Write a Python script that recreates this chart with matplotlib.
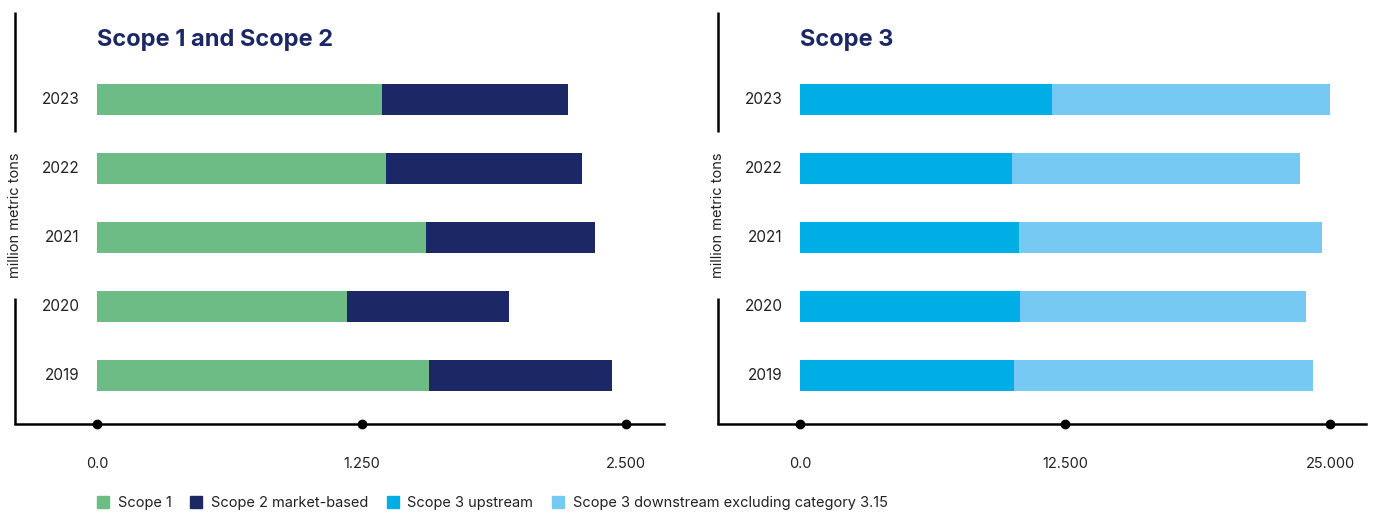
import matplotlib
matplotlib.use("Agg")
import matplotlib.pyplot as plt
from matplotlib.patches import Patch
from matplotlib.transforms import blended_transform_factory

plt.rcParams['font.family'] = ['Inter', 'DejaVu Sans']

# Emissionen in Mio. t CO2e
years = ['2019', '2020', '2021', '2022', '2023']
scope1 = [1569, 1181, 1555, 1366, 1347]
scope2_market = [865, 766, 798, 926, 879]
scope3_upstream = [10094, 10377, 10330, 10000, 11887]
scope3_downstream = [14104, 13491, 14293, 13585, 13100]

left_ticks = [0, 1250, 2500]
left_ticklabels = ['0.0', '1.250', '2.500']
right_ticks = [0, 12500, 25000]
right_ticklabels = ['0.0', '12.500', '25.000']

c_green = '#6dbc86'
c_navy = '#1c2766'
c_blue = '#00aee6'
c_lightblue = '#75c9f3'

W, H = 1375, 513
fig = plt.figure(figsize=(W / 100, H / 100), dpi=100)

ax_top, ax_bot = 12, 424
ax1 = fig.add_axes([15 / W, 1 - ax_bot / H, (664 - 15) / W, (ax_bot - ax_top) / H])
ax2 = fig.add_axes([718 / W, 1 - ax_bot / H, (1366 - 718) / W, (ax_bot - ax_top) / H])

YLIM = (-0.705, 5.265)


def draw_panel(ax, a, b, ca, cb, xlim, ticks, ticklabels, title):
    y = range(len(years))
    ax.barh(y, a, height=0.45, color=ca)
    ax.barh(y, b, left=a, height=0.45, color=cb)
    ax.set_xlim(*xlim)
    ax.set_ylim(*YLIM)
    ax.set_yticks([])
    ax.set_xticks(ticks)
    ax.set_xticklabels(ticklabels, fontsize=10.5, color='#222222')
    ax.tick_params(axis='x', length=0, pad=24)
    for s in ['top', 'right', 'left']:
        ax.spines[s].set_visible(False)
    ax.spines['bottom'].set_linewidth(1.8)
    # Punkte auf der x-Achse
    ax.plot(ticks, [YLIM[0]] * len(ticks), 'o', color='black', ms=6,
            clip_on=False, zorder=5)
    # linke Achse mit Luecke fuer die Beschriftung
    ax.plot([0, 0], [0, 0.306], color='black', lw=1.8, transform=ax.transAxes,
            clip_on=False, solid_capstyle='butt')
    ax.plot([0, 0], [0.709, 1], color='black', lw=1.8, transform=ax.transAxes,
            clip_on=False, solid_capstyle='butt')
    ax.text(0, 0.507, 'million metric tons', rotation=90, ha='center', va='center',
            fontsize=10.5, color='#222222', transform=ax.transAxes)
    for i, yr in enumerate(years):
        ax.annotate(yr, xy=(0, i), xytext=(-12.5, 0), textcoords='offset points',
                    ha='right', va='center', fontsize=11, color='#222222')
    trans = blended_transform_factory(ax.transData, ax.transAxes)
    ax.text(0, 0.932, title, transform=trans, ha='left', va='center',
            fontsize=17, fontweight='bold', color=c_navy)


draw_panel(ax1, scope1, scope2_market, c_green, c_navy, (-388, 2680),
           left_ticks, left_ticklabels, 'Scope 1 and Scope 2')
draw_panel(ax2, scope3_upstream, scope3_downstream, c_blue, c_lightblue, (-3868, 26698),
           right_ticks, right_ticklabels, 'Scope 3')

handles = [Patch(color=c_green, label='Scope 1'),
           Patch(color=c_navy, label='Scope 2 market-based'),
           Patch(color=c_blue, label='Scope 3 upstream'),
           Patch(color=c_lightblue, label='Scope 3 downstream excluding category 3.15')]
fig.legend(handles=handles, loc='center left', bbox_to_anchor=(84 / W, 1 - 503 / H),
           ncol=4, frameon=False, fontsize=10.5, handlelength=0.8, handleheight=0.8,
           handletextpad=0.6, columnspacing=1.3, labelcolor='#222222')

fig.savefig('out.png', dpi=100)
